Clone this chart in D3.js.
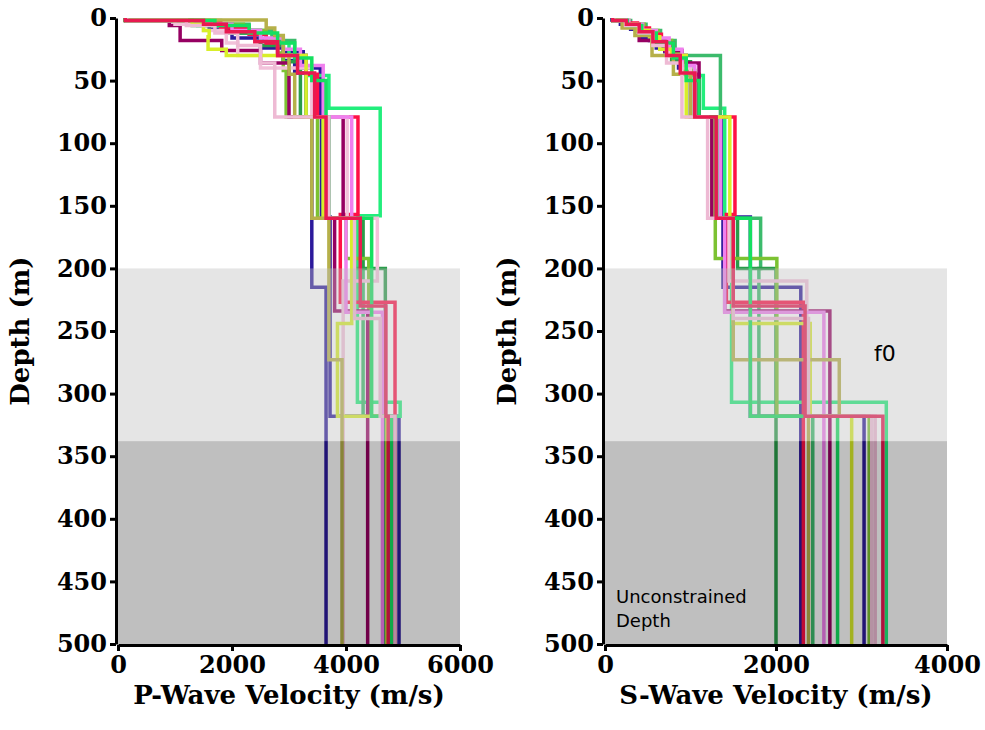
<!DOCTYPE html>
<html>
<head>
  <meta charset="utf-8">
  <title>Velocity profiles</title>
  <script src="https://cdn.jsdelivr.net/npm/d3@7"></script>
  <style>
    body { margin: 0; background: #fff; }
    .tick text { font-family: "DejaVu Serif", serif; font-weight: bold; font-size: 24px; fill: #000; }
    .axis path, .axis line { stroke: #000; stroke-width: 3; }
  </style>
</head>
<body>
<svg id="chart" width="985" height="730"></svg>
<script>
// profile colours, in drawing order
var colors = ["#2c1a9c", "#2c1a9c", "#22ee7c", "#3cbb6c", "#2a9c4a", "#7cc232", "#ff1046", "#960062",
  "#f2c2da", "#f080ee", "#d8ee2a", "#b6b04a", "#14e060", "#eebad4", "#e81a50"];

// top depth of every layer (m)
var layerTops = [
  [0, 1.5, 5, 9, 16, 24, 34, 44, 79, 215],
  [0, 2, 5, 10, 18, 27, 40, 79, 159, 318],
  [0, 2, 6, 12, 20, 30, 46, 72, 158, 307, 318],
  [0, 2, 5, 10, 18, 30, 79, 160, 200, 318],
  [0, 2, 6, 12, 22, 35, 79, 160, 200],
  [0, 2, 5, 10, 18, 28, 42, 79, 160, 192, 318],
  [0, 1.5, 4, 8, 13, 20, 30, 45, 79, 157, 227],
  [0, 2, 6, 18, 26, 36, 79, 160, 234],
  [0, 2, 5, 10, 20, 30, 40, 79, 160, 210, 318],
  [0, 2, 5, 10, 16, 25, 38, 79, 160, 235],
  [0, 2, 5, 10, 15, 25, 30, 79, 160, 244, 318],
  [0, 1.5, 8, 14, 30, 45, 79, 160, 273, 318],
  [0, 2, 6, 12, 20, 32, 50, 79, 160, 318],
  [0, 2, 6, 12, 22, 36, 79, 160, 240, 318],
  [0, 2, 5, 11, 19, 30, 44, 79, 160, 230, 318]
];

// P-wave velocity of every layer (m/s)
var vpValues = [
  [120, 1300, 1600, 2000, 2500, 2900, 3100, 3300, 3400, 3650],
  [130, 1500, 2000, 2500, 2900, 3250, 3550, 3570, 3720, 4930],
  [130, 1400, 2100, 2600, 3000, 3300, 3700, 4600, 4200, 4950, 4800],
  [140, 1800, 2300, 2700, 3100, 3300, 3600, 4150, 4300, 4800],
  [140, 1300, 1900, 2500, 2900, 3200, 3700, 4300, 4690],
  [140, 1600, 2200, 2600, 2800, 2900, 2950, 3500, 4000, 4400, 4760],
  [130, 1200, 1800, 2300, 2600, 2800, 3300, 3500, 4210, 3900, 4860],
  [140, 900, 1090, 1820, 2500, 3000, 3950, 3800, 4380],
  [150, 1000, 1500, 1900, 2100, 2500, 3400, 4020, 4550, 3950, 3950],
  [140, 1500, 2000, 2500, 2900, 3200, 3600, 4100, 4000, 4640],
  [130, 1300, 1500, 1600, 1580, 1900, 3300, 3600, 4100, 3850, 4720],
  [140, 2600, 2750, 2900, 3000, 3100, 3400, 3700, 3930, 3930],
  [130, 1700, 2300, 2800, 3100, 3400, 3650, 3700, 4450, 4800],
  [150, 1200, 1700, 2100, 2500, 2750, 3700, 4150, 4600, 4860],
  [130, 1500, 1900, 2400, 2800, 3150, 3450, 3650, 4250, 4700, 4740]
];

// S-wave velocity of every layer (m/s)
var vsValues = [
  [80, 180, 300, 420, 600, 780, 930, 1050, 1380, 2290],
  [90, 230, 380, 520, 700, 860, 1000, 1370, 1700, 3030],
  [90, 250, 420, 600, 780, 950, 1150, 1400, 1480, 3290, 3290],
  [100, 300, 480, 650, 820, 1350, 1330, 1820, 1800, 2430],
  [100, 260, 420, 600, 780, 1000, 1300, 1550, 2000],
  [90, 280, 460, 620, 780, 900, 1050, 1250, 1290, 2010, 3090],
  [100, 220, 380, 520, 660, 800, 950, 1100, 1520, 1420, 2320],
  [100, 250, 400, 700, 900, 1100, 1250, 1400, 2630],
  [100, 250, 400, 550, 750, 900, 1000, 1350, 1450, 2360, 3120],
  [100, 280, 440, 600, 750, 900, 1050, 1350, 1400, 2560],
  [90, 230, 380, 520, 640, 780, 950, 1460, 1500, 2400, 2885],
  [90, 200, 350, 550, 800, 1000, 1290, 1500, 2740, 2380],
  [90, 260, 430, 600, 800, 950, 1100, 1300, 1700, 2720],
  [100, 240, 400, 560, 720, 900, 1200, 1500, 2380, 3160],
  [90, 250, 400, 560, 720, 880, 1050, 1300, 1500, 2340, 3250]
];

var depthTicks = [0, 50, 100, 150, 200, 250, 300, 350, 400, 450, 500];
var maxDepth = 500;
var constrainedTo = 200;     // light band starts here
var unconstrainedFrom = 338; // dark band starts here

var svg = d3.select("#chart");
var y = d3.scaleLinear().domain([0, maxDepth]).range([18, 644]);

var panels = [
  { x0: 118, x1: 460, max: 6000, ticks: [0, 2000, 4000, 6000], vals: vpValues, label: "P-Wave Velocity (m/s)" },
  { x0: 605, x1: 947, max: 4000, ticks: [0, 2000, 4000], vals: vsValues, label: "S-Wave Velocity (m/s)" }
];

panels.forEach(function(p) {
  var x = d3.scaleLinear().domain([0, p.max]).range([p.x0, p.x1]);
  var g = svg.append("g");

  // step profiles
  var line = d3.line().x(function(d) { return x(d[0]); }).y(function(d) { return y(d[1]); });
  layerTops.forEach(function(tops, i) {
    var v = p.vals[i], pts = [];
    for (var k = 0; k < tops.length; k++) {
      var bottom = k + 1 < tops.length ? tops[k + 1] : maxDepth;
      pts.push([v[k], tops[k]]);
      pts.push([v[k], bottom]);
    }
    g.append("path").attr("d", line(pts))
      .attr("fill", "none").attr("stroke", colors[i])
      .attr("stroke-width", 3.5).attr("stroke-linejoin", "miter");
  });

  // depth bands over the profiles
  g.append("rect").attr("x", p.x0).attr("width", p.x1 - p.x0)
    .attr("y", y(constrainedTo)).attr("height", y(unconstrainedFrom) - y(constrainedTo))
    .attr("fill", "#bfbfbf").attr("fill-opacity", 0.4);
  g.append("rect").attr("x", p.x0).attr("width", p.x1 - p.x0)
    .attr("y", y(unconstrainedFrom)).attr("height", y(maxDepth) - y(unconstrainedFrom))
    .attr("fill", "#000").attr("fill-opacity", 0.25);

  g.append("g").attr("class", "axis").attr("transform", "translate(" + (p.x0 - 2) + ",0)")
    .call(d3.axisLeft(y).tickValues(depthTicks).tickSize(6).tickSizeOuter(0).tickPadding(3));
  g.append("g").attr("class", "axis").attr("transform", "translate(0," + (y(maxDepth) + 1) + ")")
    .call(d3.axisBottom(x).tickValues(p.ticks).tickFormat(d3.format("d")).tickSize(6).tickSizeOuter(0).tickPadding(5));

  g.append("text").attr("x", (p.x0 + p.x1) / 2).attr("y", 704)
    .attr("text-anchor", "middle")
    .style("font-family", "DejaVu Serif").style("font-weight", "bold").style("font-size", "26px")
    .text(p.label);
  g.append("text")
    .attr("transform", "translate(" + (p.x0 - 89) + "," + y(250) + ") rotate(-90)")
    .attr("text-anchor", "middle")
    .style("font-family", "DejaVu Serif").style("font-weight", "bold").style("font-size", "26px")
    .text("Depth (m)");
});

svg.append("text").attr("x", 874).attr("y", 361)
  .style("font-family", "DejaVu Sans").style("font-size", "22px").text("f0");
svg.append("text").attr("x", 616).attr("y", 603)
  .style("font-family", "DejaVu Sans").style("font-size", "18px").text("Unconstrained");
svg.append("text").attr("x", 616).attr("y", 627)
  .style("font-family", "DejaVu Sans").style("font-size", "18px").text("Depth");
</script>
</body>
</html>
